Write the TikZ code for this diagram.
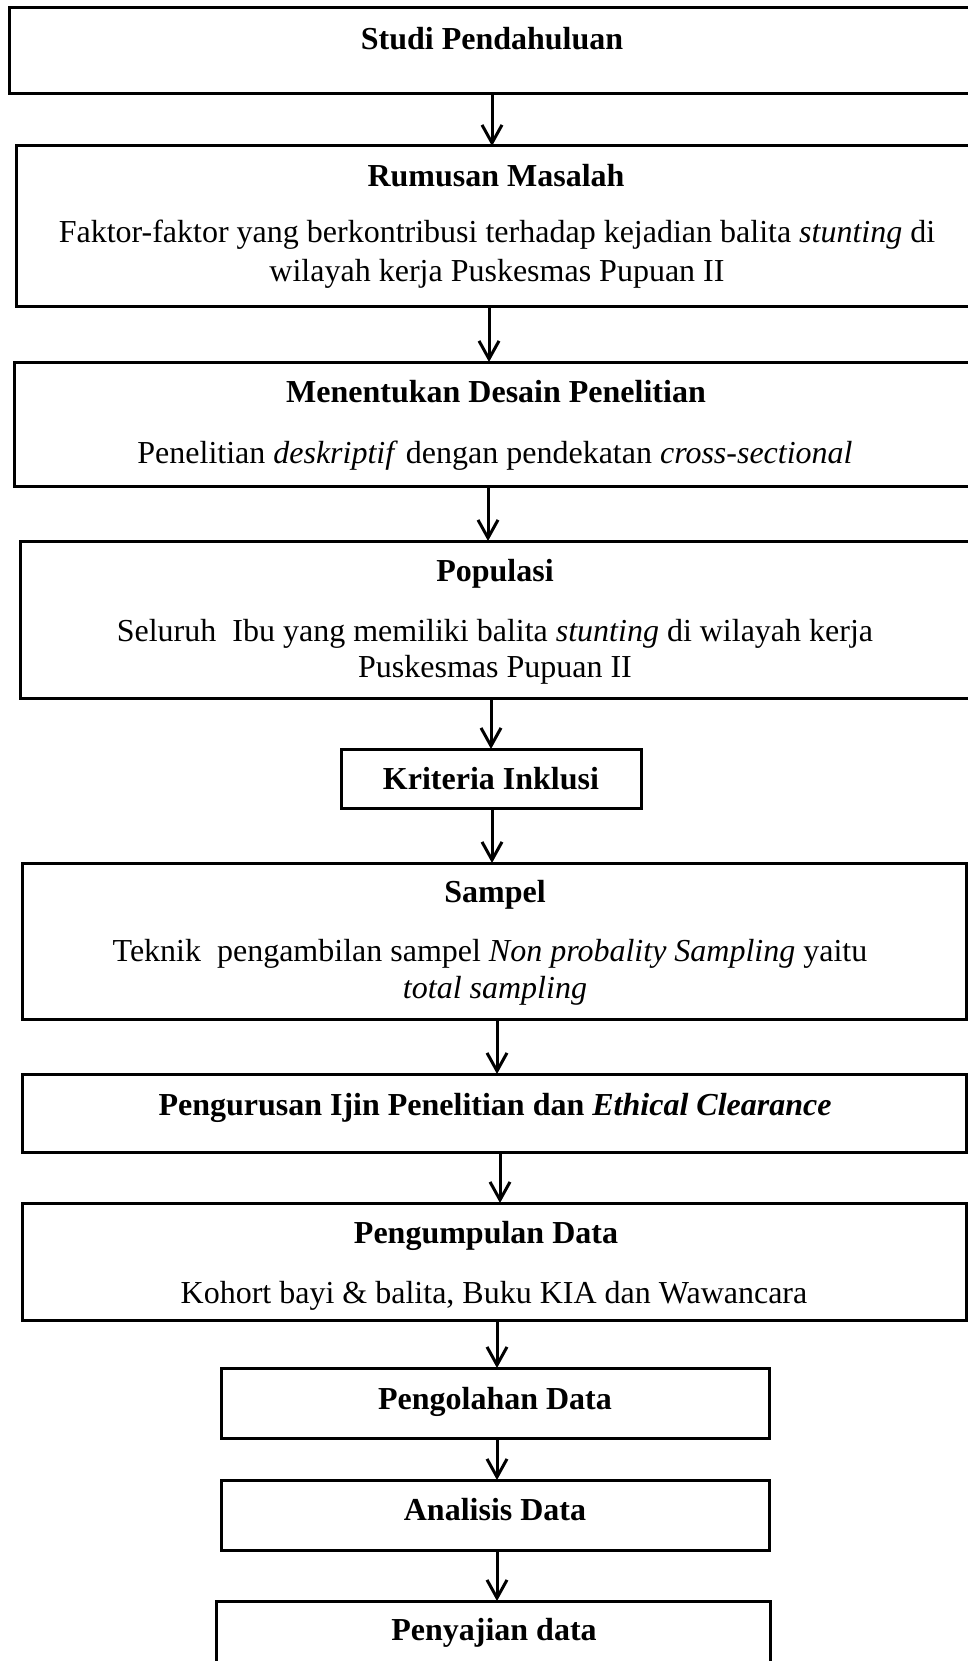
\documentclass[tikz,border=0pt]{standalone}
\usepackage{fontspec}
\setmainfont{Liberation Serif}
\usetikzlibrary{arrows.meta}
\begin{document}
\begin{tikzpicture}[x=1pt,y=-1pt,
  bx/.style={draw=black,line width=3pt,inner sep=0pt,outer sep=0pt,rectangle},
  tx/.style={anchor=base,inner sep=0pt,outer sep=0pt,font=\fontsize{32}{40}\selectfont},
  arr/.style={line width=3pt,-{Straight Barb[length=18pt,width=20pt,line width=3pt]}}]
\clip (0,0) rectangle (968,1661);
\fill[white] (0,0) rectangle (968,1661);
% boxes
\node[bx,minimum width=981pt,minimum height=86pt]  (b1)  at (499.5,51) {};
\node[bx,minimum width=974pt,minimum height=161pt] (b2)  at (503,226.5) {};
\node[bx,minimum width=976pt,minimum height=124pt] (b3)  at (502,424) {};
\node[bx,minimum width=970pt,minimum height=157pt] (b4)  at (505,619.5) {};
\node[bx,minimum width=300pt,minimum height=59pt]  (b5)  at (491,778.5) {};
\node[bx,minimum width=944pt,minimum height=156pt] (b6)  at (494,941) {};
\node[bx,minimum width=944pt,minimum height=78pt]  (b7)  at (494,1113) {};
\node[bx,minimum width=944pt,minimum height=117pt] (b8)  at (494,1261.5) {};
\node[bx,minimum width=548pt,minimum height=70pt]  (b9)  at (495,1403) {};
\node[bx,minimum width=548pt,minimum height=70pt]  (b10) at (495,1515) {};
\node[bx,minimum width=554pt,minimum height=119pt] (b11) at (493,1660.5) {};
% texts
\node[tx] (t1)  at (492,50)   {\textbf{Studi Pendahuluan}};
\node[tx] (t2)  at (496,187)  {\textbf{Rumusan Masalah}};
\node[tx] (t2a) at (497,243)  {Faktor-faktor yang berkontribusi terhadap kejadian balita \textit{stunting} di};
\node[tx] (t2b) at (497,282)  {wilayah kerja Puskesmas Pupuan II};
\node[tx] (t3)  at (496,402)  {\textbf{Menentukan Desain Penelitian}};
\node[tx] (t3a) at (495,463)  {Penelitian \textit{deskriptif} dengan pendekatan \textit{cross-sectional}};
\node[tx] (t4)  at (495,581)  {\textbf{Populasi}};
\node[tx] (t4a) at (495,641)  {Seluruh\ \ Ibu yang memiliki balita \textit{stunting} di wilayah kerja};
\node[tx] (t4b) at (495,677)  {Puskesmas Pupuan II};
\node[tx] (t5)  at (491,789)  {\textbf{Kriteria Inklusi}};
\node[tx] (t6)  at (495,902)  {\textbf{Sampel}};
\node[tx] (t6a) at (490,961)  {Teknik\ \ pengambilan sampel \textit{Non probality Sampling} yaitu};
\node[tx] (t6b) at (495,998)  {\textit{total sampling}};
\node[tx] (t7)  at (495,1115) {\textbf{Pengurusan Ijin Penelitian dan \textit{Ethical Clearance}}};
\node[tx] (t8)  at (486,1243) {\textbf{Pengumpulan Data}};
\node[tx] (t8a) at (494,1303) {Kohort bayi \& balita, Buku KIA dan Wawancara};
\node[tx] (t9)  at (495,1409) {\textbf{Pengolahan Data}};
\node[tx] (t10) at (495,1520) {\textbf{Analisis Data}};
\node[tx] (t11) at (494,1640) {\textbf{Penyajian data}};
% arrow columns
\coordinate (x1) at (492,0);
\coordinate (x2) at (489,0);
\coordinate (x3) at (488,0);
\coordinate (x4) at (491,0);
\coordinate (x5) at (492,0);
\coordinate (x6) at (497,0);
\coordinate (x7) at (500,0);
\coordinate (x8) at (497,0);
\coordinate (x9) at (497,0);
\coordinate (x10) at (497,0);
\draw[arr] (b1.south -| x1) -- (b2.north -| x1);
\draw[arr] (b2.south -| x2) -- (b3.north -| x2);
\draw[arr] (b3.south -| x3) -- (b4.north -| x3);
\draw[arr] (b4.south -| x4) -- (b5.north -| x4);
\draw[arr] (b5.south -| x5) -- (b6.north -| x5);
\draw[arr] (b6.south -| x6) -- (b7.north -| x6);
\draw[arr] (b7.south -| x7) -- (b8.north -| x7);
\draw[arr] (b8.south -| x8) -- (b9.north -| x8);
\draw[arr] (b9.south -| x9) -- (b10.north -| x9);
\draw[arr] (b10.south -| x10) -- (b11.north -| x10);
\end{tikzpicture}
\end{document}
